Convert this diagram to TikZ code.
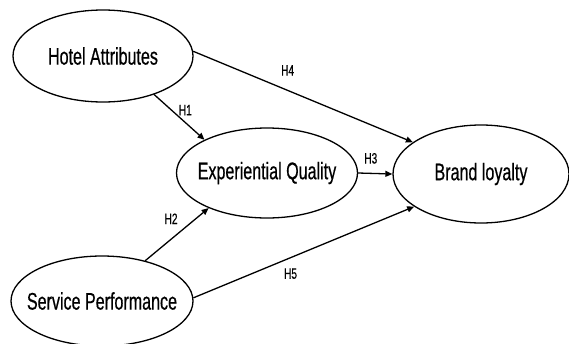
\documentclass[tikz,border=0pt]{standalone}
\usepackage{fontspec}
\newfontfamily\narrowsans[FakeStretch=0.67,FakeBold=0.5]{Liberation Sans}
\usetikzlibrary{shapes.geometric,arrows.meta}

\begin{document}
\begin{tikzpicture}[x=1pt, y=-1pt, line width=1.3pt, >={Triangle[length=7pt,width=6pt]}]
\useasboundingbox (0,0) rectangle (569,343);

   \begin{scope}[every node/.style={ellipse,draw,inner xsep=-20pt,inner ysep=0pt,font=\narrowsans\fontsize{24}{28}\selectfont}]
    \node[minimum width=180pt, minimum height=92pt] (ha) at (103,56) {Hotel Attributes};
    \node[minimum width=181pt, minimum height=90pt] (eq) at (267,173) {Experiential Quality};
    \node[minimum width=176pt, minimum height=98pt] (bl) at (481,174) {Brand loyalty};
    \node[minimum width=182pt, minimum height=90pt] (sp) at (102,301) {Service Performance};
   \end{scope}
   \begin{scope}[every node/.style={font=\narrowsans\fontsize{15}{17}\selectfont,inner sep=1pt}]
\draw (ha.323) edge[->] node[pos=0.5, xshift=6pt, yshift=7pt]{H1} (eq.152);
\draw (sp.43) edge[->] node[pos=0.55, xshift=-9pt, yshift=13pt]{H2} (eq.211);
\draw (eq.east) edge[->] node[pos=0.37, yshift=15pt]{H3} (bl.west);
\draw (ha.3) edge[->] node[pos=0.43, yshift=20pt]{H4} (bl.155);
\draw (sp.2) edge[->] node[pos=0.44, yshift=-16pt]{H5} (bl.206);
   \end{scope}
\end{tikzpicture}
\end{document}
